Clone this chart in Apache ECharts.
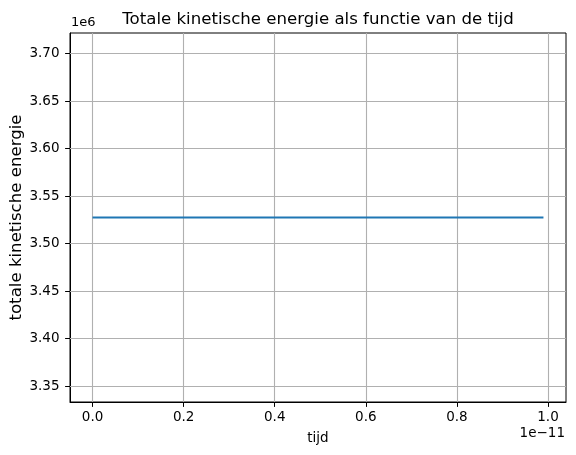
<!DOCTYPE html>
<html>
<head>
<meta charset="utf-8">
<script src="https://cdn.jsdelivr.net/npm/echarts@6/dist/echarts.min.js"></script>
<style>html,body{margin:0;padding:0;background:#fff}#c{width:576px;height:455px}</style>
</head>
<body>
<div id="c"></div>
<script>
// Data
const tijd = [0, 0.99e-11];              // seconds
const energie = [3527500, 3527500];      // total kinetic energy
const xTicks = [0, 0.2e-11, 0.4e-11, 0.6e-11, 0.8e-11, 1.0e-11];
const yTicks = [3.35e6, 3.40e6, 3.45e6, 3.50e6, 3.55e6, 3.60e6, 3.65e6, 3.70e6];
const xRange = [-0.0495e-11, 1.0395e-11];
const yRange = [3333487.5, 3721512.5];

const font = '"DejaVu Sans"';
const chart = echarts.init(document.getElementById('c'), null, {renderer: 'canvas'});
const pts = tijd.map((t, i) => [t, energie[i]]);
chart.setOption({
  animation: false,
  backgroundColor: '#fff',
  title: {
    text: 'Totale kinetische energie als functie van de tijd',
    left: 313, top: 6, textAlign: 'center',
    textStyle: {fontFamily: font, fontSize: 16.6, fontWeight: 'normal', color: '#000'}
  },
  grid: {left: 70, top: 33, right: 10, bottom: 53, containLabel: false, outerBoundsMode: 'none',
         show: true, borderColor: '#000', borderWidth: 1},
  xAxis: {
    type: 'value', min: xRange[0], max: xRange[1],
    name: 'tijd', nameLocation: 'middle', nameGap: 29, nameMoveOverlap: false,
    nameTextStyle: {fontFamily: font, fontSize: 13.5, color: '#000'},
    axisLine: {show: true, onZero: false, lineStyle: {color: '#000', width: 1}},
    axisTick: {show: true, length: 4.9, inside: false, customValues: xTicks, lineStyle: {color: '#000', width: 1}},
    axisLabel: {customValues: xTicks, margin: 8, fontFamily: font, fontSize: 13.5, color: '#000',
      formatter: v => (v / 1e-11).toFixed(1)},
    splitLine: {show: false}
  },
  yAxis: {
    type: 'value', min: yRange[0], max: yRange[1],
    name: 'totale kinetische energie', nameLocation: 'middle', nameGap: 45, nameRotate: 90,
    nameMoveOverlap: false,
    nameTextStyle: {fontFamily: font, fontSize: 16.6, color: '#000'},
    axisLine: {show: true, onZero: false, lineStyle: {color: '#000', width: 1}},
    axisTick: {show: true, length: 4.9, inside: false, customValues: yTicks, lineStyle: {color: '#000', width: 1}},
    axisLabel: {customValues: yTicks, margin: 10.5, fontFamily: font, fontSize: 13.5, color: '#000',
      formatter: v => (v / 1e6).toFixed(2)},
    splitLine: {show: false}
  },
  graphic: [
    {type: 'text', left: 71, top: 16, style: {text: '1e6', font: '13px "DejaVu Sans"', fill: '#000'}},
    {type: 'text', right: 11, top: 426, style: {text: '1e\u221211', font: '13.5px "DejaVu Sans"', fill: '#000', textAlign: 'right'}}
  ],
  series: [
    // grid lines built from tick arrays
    {type: 'line', silent: true, data: pts, showSymbol: false, symbol: 'none',
     lineStyle: {opacity: 0}, z: 1,
     markLine: {
      symbol: 'none', silent: true, label: {show: false}, animation: false,
      lineStyle: {color: '#b0b0b0', width: 1.1, type: 'solid'},
      data: xTicks.map(v => [{coord: [v, yRange[0]]}, {coord: [v, yRange[1]]}])
        .concat(yTicks.map(v => [{coord: [xRange[0], v]}, {coord: [xRange[1], v]}]))
    }},
    {type: 'line', data: pts, showSymbol: false, symbol: 'none',
     lineStyle: {color: '#1f77b4', width: 2.1}, z: 5}
  ]
});
</script>
</body>
</html>
